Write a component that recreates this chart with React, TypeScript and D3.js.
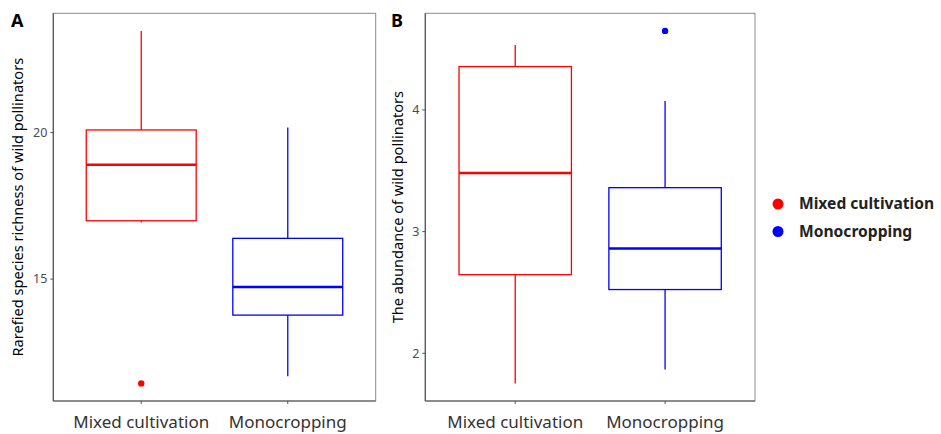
import React from "react";
import * as d3 from "d3";

// groups on the x axis
const categories = ["Mixed cultivation", "Monocropping"];
const groupColors = ["#FF0000", "#0000FF"];

// panel A: rarefied species richness, [lowerWhisker, q1, median, q3, upperWhisker]
const richnessStats = [
  [16.93, 16.99, 18.9, 20.09, 23.47],
  [11.68, 13.77, 14.73, 16.39, 20.17],
];
const richnessOutliers = [[11.44], []];
const richnessTicks = [15, 20];

// panel B: abundance
const abundanceStats = [
  [1.753, 2.646, 3.482, 4.356, 4.534],
  [1.868, 2.524, 2.861, 3.361, 4.074],
];
const abundanceOutliers = [[], [4.649]];
const abundanceTicks = [2, 3, 4];

const FONT = "'Noto Sans', 'DejaVu Sans', sans-serif";

type PanelProps = {
  left: number;
  right: number;
  top: number;
  bottom: number;
  label: string;
  labelX: number;
  yTitle: string;
  titleX: number;
  stats: number[][];
  outliers: number[][];
  ticks: number[];
};

function Panel({ left, right, top, bottom, label, labelX, yTitle, titleX, stats, outliers, ticks }: PanelProps) {
  const all = stats.flat().concat(outliers.flat());
  const lo = d3.min(all) as number;
  const hi = d3.max(all) as number;
  const pad = (hi - lo) * 0.05; // ggplot-style 5% expansion
  const y = d3.scaleLinear().domain([lo - pad, hi + pad]).range([bottom, top]);
  const x = d3.scalePoint<string>().domain(categories).range([left, right]).padding(0.6);
  const boxW = x.step() * 0.75;

  return (
    <g>
      <text x={labelX} y={27} fontFamily={FONT} fontWeight="bold" fontSize={18} fill="#000">
        {label}
      </text>
      <rect x={left} y={top} width={right - left} height={bottom - top} fill="none" stroke="#8a8a8a" strokeWidth={1} />
      <line x1={left} x2={left} y1={top} y2={bottom} stroke="#555" strokeWidth={1.2} />
      <line x1={left} x2={right} y1={bottom} y2={bottom} stroke="#555" strokeWidth={1.2} />

      {ticks.map((t) => (
        <g key={t}>
          <line x1={left - 3} x2={left} y1={y(t)} y2={y(t)} stroke="#555" />
          <text x={left - 6} y={y(t)} dy="0.35em" textAnchor="end" fontFamily={FONT} fontSize={12.5} fill="#4d4d4d">
            {t}
          </text>
        </g>
      ))}

      {categories.map((c) => (
        <g key={c}>
          <line x1={x(c)} x2={x(c)} y1={bottom} y2={bottom + 3} stroke="#555" />
          <text x={x(c)} y={428} textAnchor="middle" fontFamily={FONT} fontSize={17} fill="#333">
            {c}
          </text>
        </g>
      ))}

      <text
        transform={`translate(${titleX},${(top + bottom) / 2}) rotate(-90)`}
        textAnchor="middle"
        fontFamily={FONT}
        fontSize={14.6}
        fill="#000"
      >
        {yTitle}
      </text>

      {categories.map((c, i) => {
        const [wl, q1, med, q3, wh] = stats[i];
        const cx = x(c) as number;
        const col = groupColors[i];
        return (
          <g key={c}>
            <line x1={cx} x2={cx} y1={y(wh)} y2={y(q3)} stroke={col} strokeWidth={1.3} />
            <line x1={cx} x2={cx} y1={y(q1)} y2={y(wl)} stroke={col} strokeWidth={1.3} />
            <rect x={cx - boxW / 2} y={y(q3)} width={boxW} height={y(q1) - y(q3)} fill="#fff" stroke={col} strokeWidth={1.3} />
            <line x1={cx - boxW / 2} x2={cx + boxW / 2} y1={y(med)} y2={y(med)} stroke={col} strokeWidth={2.6} />
            {outliers[i].map((o, j) => (
              <circle key={j} cx={cx} cy={y(o)} r={3.2} fill={col} />
            ))}
          </g>
        );
      })}
    </g>
  );
}

export default function App() {
  return (
    <svg width={941} height={434} style={{ position: "absolute", left: 0, top: 0, background: "#fff" }}>
      <Panel
        left={53.3}
        right={375.7}
        top={13.3}
        bottom={401}
        label="A"
        labelX={11}
        yTitle="Rarefied species richness of wild pollinators"
        titleX={23}
        stats={richnessStats}
        outliers={richnessOutliers}
        ticks={richnessTicks}
      />
      <Panel
        left={425.3}
        right={755}
        top={13.3}
        bottom={401}
        label="B"
        labelX={391}
        yTitle="The abundance of wild pollinators"
        titleX={403}
        stats={abundanceStats}
        outliers={abundanceOutliers}
        ticks={abundanceTicks}
      />
      <g>
        {categories.map((c, i) => (
          <g key={c} transform={`translate(778,${204 + i * 27.5})`}>
            <circle r={5.5} fill={groupColors[i]} />
            <text x={21} dy="0.35em" fontFamily={FONT} fontWeight="bold" fontSize={15.6} fill="#222">
              {c}
            </text>
          </g>
        ))}
      </g>
    </svg>
  );
}
